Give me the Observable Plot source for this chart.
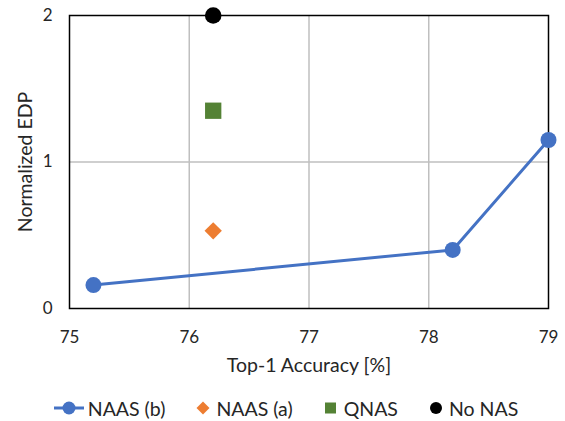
<!DOCTYPE html>
<html>
<head>
<meta charset="utf-8">
<script src="https://cdn.jsdelivr.net/npm/d3@7"></script>
<script src="https://cdn.jsdelivr.net/npm/@observablehq/plot@0.6"></script>
<style>
  body { margin: 0; background: #fff; font-family: Lato, "Open Sans", sans-serif; }
  #legend { display: flex; justify-content: center; align-items: center; height: 26px; font-size: 19.5px; color: #262626; padding-left: 6px; }
  #legend .item { display: flex; align-items: center; margin-right: 28px; }
  #legend .item:last-child { margin-right: 0; }
  #legend svg { margin-right: 3px; }
  g[aria-label="x-axis tick label"] text, g[aria-label="y-axis tick label"] text { font-size: 17px; }
  g[aria-label="x-axis label"] text, g[aria-label="y-axis label"] text { font-size: 19.5px; }
</style>
</head>
<body>
<div id="chart"></div>
<div id="legend"></div>
<script>
// NAAS (b) line series
const naasB_acc = [75.2, 78.2, 79.0];
const naasB_edp = [0.16, 0.40, 1.15];
// Single-point series
const naasA = {acc: 76.2, edp: 0.53};
const qnas = {acc: 76.2, edp: 1.35};
const noNas = {acc: 76.2, edp: 2.0};
const xTicks = [75, 76, 77, 78, 79];
const yTicks = [0, 1, 2];
const seriesNames = ["NAAS (b)", "NAAS (a)", "QNAS", "No NAS"];
const colors = ["#4472C4", "#ED7D31", "#548235", "#000000"];

const lineData = naasB_acc.map((a, i) => ({acc: a, edp: naasB_edp[i]}));

const chart = Plot.plot({
  width: 565,
  height: 395,
  marginLeft: 69,
  marginRight: 17,
  marginTop: 15,
  marginBottom: 87,
  style: {fontFamily: "Lato, 'Open Sans', sans-serif", fontSize: "17px", color: "#262626"},
  x: {domain: [75, 79]},
  y: {domain: [0, 2]},
  marks: [
    Plot.gridX([76, 77, 78], {stroke: "#BFBFBF", strokeOpacity: 1, strokeWidth: 1.5}),
    Plot.gridY([1], {stroke: "#BFBFBF", strokeOpacity: 1, strokeWidth: 1.5}),
    Plot.frame({stroke: "#000", strokeWidth: 1.5}),
    Plot.axisX(xTicks, {tickSize: 0, tickPadding: 22, tickFormat: "d", label: "Top-1 Accuracy [%]", labelAnchor: "center", labelArrow: "none", labelOffset: 63}),
    Plot.axisY(yTicks, {tickSize: 0, tickPadding: 17, tickFormat: "d", label: "Normalized EDP", labelAnchor: "center", labelArrow: "none", labelOffset: 51}),
    Plot.line(lineData, {x: "acc", y: "edp", stroke: colors[0], strokeWidth: 3}),
    Plot.dot(lineData, {x: "acc", y: "edp", fill: colors[0], r: 8}),
    Plot.dot([naasA], {x: "acc", y: "edp", fill: colors[1], symbol: "diamond2", r: 7.8}),
    Plot.dot([qnas], {x: "acc", y: "edp", fill: colors[2], symbol: "square", r: 9.2}),
    Plot.dot([noNas], {x: "acc", y: "edp", fill: colors[3], r: 8.3})
  ]
});
document.getElementById("chart").appendChild(chart);

// Legend
const legend = document.getElementById("legend");
const symbolsSvg = [
  `<svg width="32" height="16"><line x1="1" y1="8" x2="31" y2="8" stroke="${colors[0]}" stroke-width="3"/><circle cx="16" cy="8" r="6.5" fill="${colors[0]}"/></svg>`,
  `<svg width="20" height="16"><path d="M10,1.5L16.5,8L10,14.5L3.5,8Z" fill="${colors[1]}"/></svg>`,
  `<svg width="20" height="16"><rect x="4" y="2.5" width="11" height="11" fill="${colors[2]}"/></svg>`,
  `<svg width="20" height="16"><circle cx="10" cy="8" r="6" fill="${colors[3]}"/></svg>`
];
seriesNames.forEach((name, i) => {
  const d = document.createElement("div");
  d.className = "item";
  d.innerHTML = symbolsSvg[i] + `<span>${name}</span>`;
  legend.appendChild(d);
});
</script>
</body>
</html>
